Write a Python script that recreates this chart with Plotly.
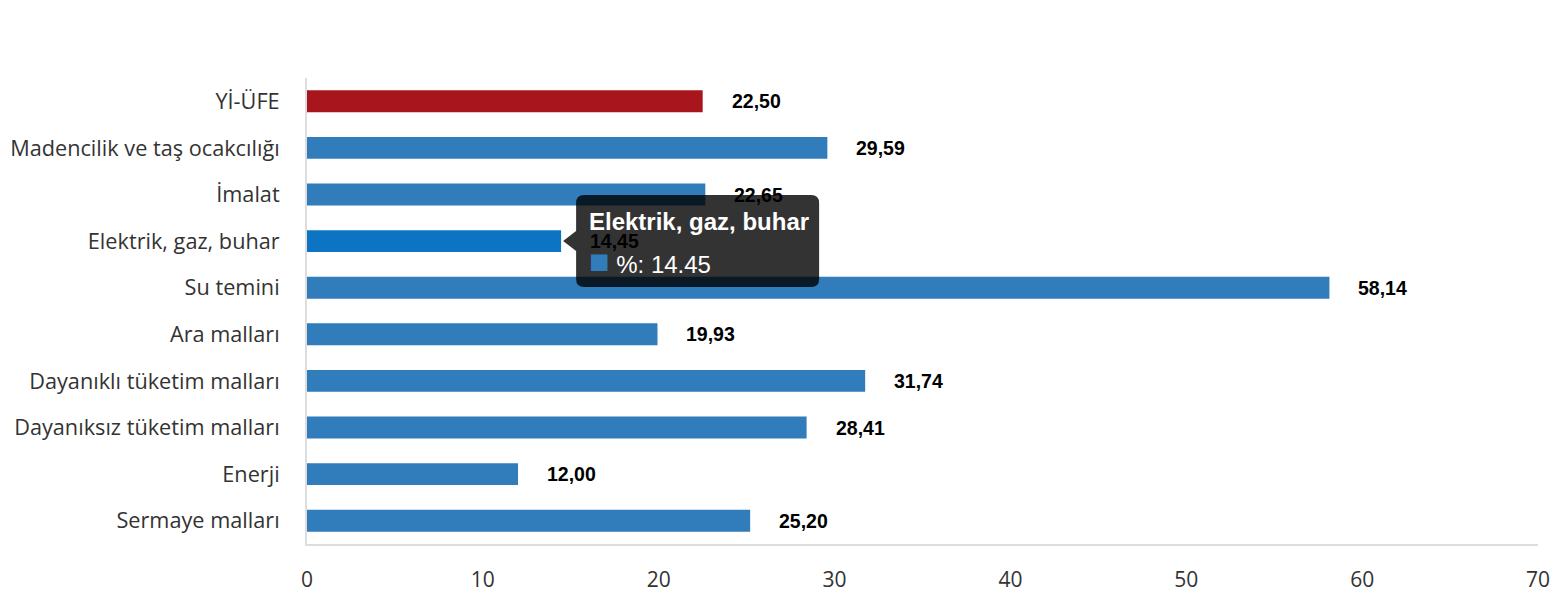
import plotly.graph_objects as go

categories = ["Yİ-ÜFE", "Madencilik ve taş ocakcılığı", "İmalat", "Elektrik, gaz, buhar",
              "Su temini", "Ara malları", "Dayanıklı tüketim malları",
              "Dayanıksız tüketim malları", "Enerji", "Sermaye malları"]
values = [22.50, 29.59, 22.65, 14.45, 58.14, 19.93, 31.74, 28.41, 12.00, 25.20]
value_labels = ["22,50", "29,59", "22,65", "14,45", "58,14", "19,93", "31,74", "28,41", "12,00", "25,20"]
tick_vals = [0, 10, 20, 30, 40, 50, 60, 70]
hover_category = "Elektrik, gaz, buhar"
series_name = "%"

RED = "#a8151c"
BLUE = "#317dbb"
HOVER_BLUE = "#0c74c2"

colors = []
for c in categories:
    if c == "Yİ-ÜFE":
        colors.append(RED)
    elif c == hover_category:
        colors.append(HOVER_BLUE)
    else:
        colors.append(BLUE)

fig = go.Figure()
fig.add_trace(go.Bar(
    x=values, y=categories, orientation="h",
    marker=dict(color=colors, line=dict(width=0)),
    name=series_name,
    hoverinfo="skip",
))

# Tooltip background (hover state shown in the reference), anchored at the hovered bar end
hv = values[categories.index(hover_category)]
r = 8
x0, x1, h, tip, ph = 15, 258, 46, 2, 10
path = (f"M {tip},0 L {x0},{ph} L {x0},{h - r} Q {x0},{h} {x0 + r},{h} "
        f"L {x1 - r},{h} Q {x1},{h} {x1},{h - r} L {x1},{-h + r} Q {x1},{-h} {x1 - r},{-h} "
        f"L {x0 + r},{-h} Q {x0},{-h} {x0},{-h + r} L {x0},{-ph} Z")
fig.add_shape(
    type="path", xref="x", yref="y", xsizemode="pixel", ysizemode="pixel",
    xanchor=hv, yanchor=hover_category, path=path,
    fillcolor="rgba(0,0,0,0.8)", line=dict(width=0), layer="above",
)

for c, v, lab in zip(categories, values, value_labels):
    fig.add_annotation(
        x=v, y=c, xref="x", yref="y", text="<b>" + lab + "</b>",
        showarrow=False, xanchor="left", xshift=27,
        font=dict(family="Liberation Sans, Arial", size=19.5, color="#000000"),
    )

fig.add_annotation(
    x=hv, y=hover_category, xref="x", yref="y",
    text="<b>" + hover_category + "</b>",
    showarrow=False, xanchor="left", yanchor="middle", xshift=26, yshift=20,
    font=dict(family="Liberation Sans, Arial", size=24, color="#ffffff"),
)
fig.add_annotation(
    x=hv, y=hover_category, xref="x", yref="y",
    text="<span style='color:" + BLUE + ";font-size:34px'>■</span> " + series_name + ": " + f"{hv:.2f}",
    showarrow=False, xanchor="left", yanchor="middle", xshift=26, yshift=-20,
    font=dict(family="Liberation Sans, Arial", size=24, color="#ffffff"),
)

fig.update_layout(
    width=1556, height=600,
    margin=dict(l=307, r=18, t=78, b=56),
    paper_bgcolor="white", plot_bgcolor="white",
    showlegend=False,
    bargap=0.53,
    xaxis=dict(
        range=[0, 70], tickvals=tick_vals, showgrid=False, zeroline=False,
        showline=True, linecolor="#dddddd", linewidth=2,
        tickfont=dict(family="Open Sans, Noto Sans", size=21, color="#333333"),
        ticks="outside", ticklen=16, tickcolor="white",
        ticklabeloverflow="allow", automargin=False,
    ),
    yaxis=dict(
        categoryorder="array", categoryarray=categories, autorange="reversed",
        showgrid=False, zeroline=False, showline=True, linecolor="#dddddd", linewidth=2,
        tickfont=dict(family="Open Sans, Noto Sans", size=21.7, color="#333333"),
        ticks="outside", ticklen=21, tickcolor="white", automargin=False,
    ),
)

fig.write_html("out.html", config={"displayModeBar": False},
               post_script="document.body.style.margin='0';document.body.style.overflow='hidden';")
